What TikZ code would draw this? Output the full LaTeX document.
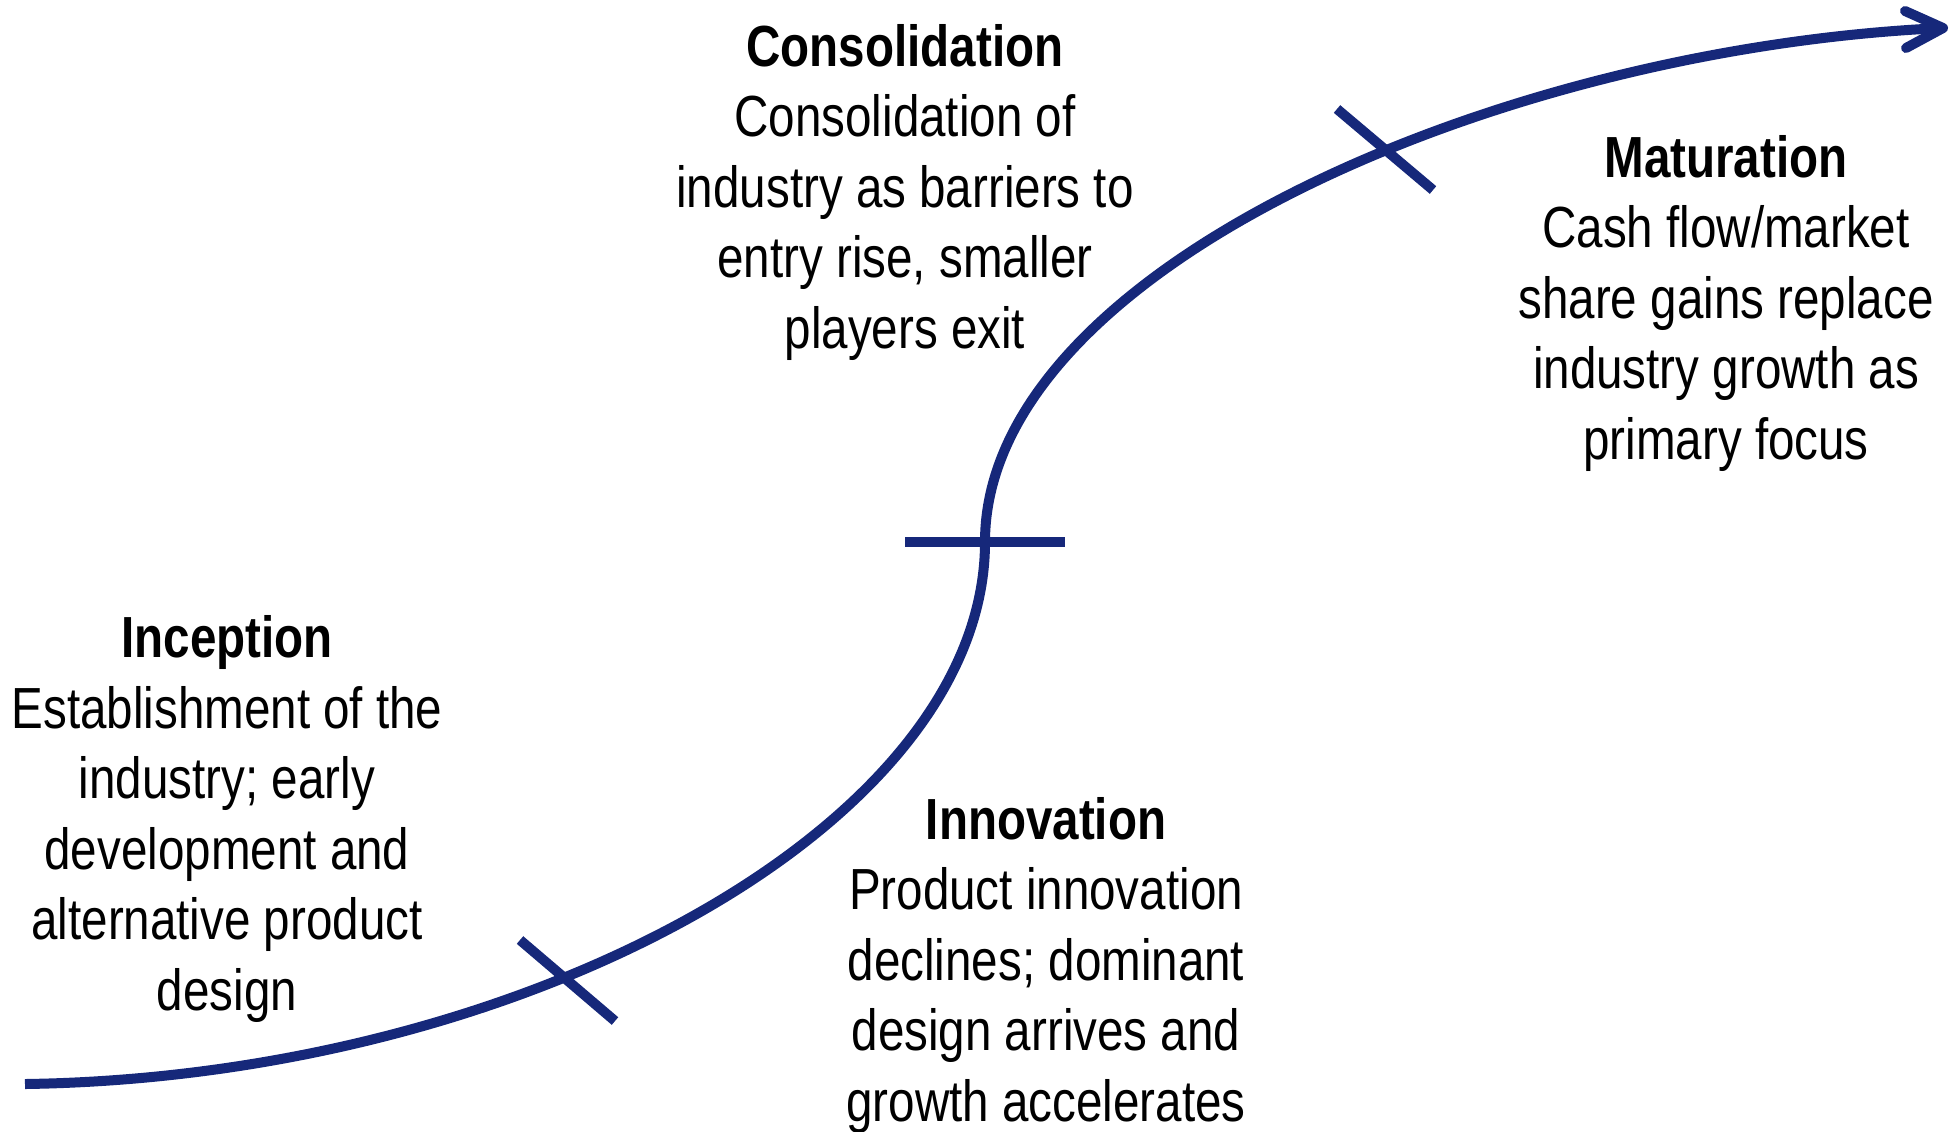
\documentclass[tikz,border=0pt]{standalone}
\usepackage{fontspec}
\setmainfont{Liberation Sans}[FakeStretch=0.82]
\definecolor{navy}{RGB}{22,40,122}
\begin{document}
\begin{tikzpicture}[x=0.5pt,y=-0.5pt,
  stage/.style={align=center, inner sep=0pt, anchor=base,
                font=\fontsize{29}{35.25}\selectfont},
  curve/.style={draw=navy, line width=5pt},
  tickmark/.style={draw=navy, line width=5pt}]
\useasboundingbox (0,0) rectangle (1957,1131);

% S-shaped life-cycle curve
\coordinate (start) at (25,1084);
\coordinate (c1) at (524,1077);
\coordinate (c2) at (985,825);
\coordinate (mid) at (985,542);
\coordinate (c3) at (985,270);
\coordinate (c4) at (1498,48);
\coordinate (tip) at (1943,28);
\draw[curve] (start) .. controls (c1) and (c2) .. (mid)
                     .. controls (c3) and (c4) .. (tip);
% open arrow head
\coordinate (barbU) at (1905,11);
\coordinate (barbL) at (1906,48);
\draw[curve, line cap=round, line join=round] (barbU) -- (tip) -- (barbL);

% phase boundaries
\coordinate (t1a) at (520,940);  \coordinate (t1b) at (615,1021);
\coordinate (t2a) at (905,542);  \coordinate (t2b) at (1065,542);
\coordinate (t3a) at (1337,109); \coordinate (t3b) at (1433,190);
\draw[tickmark] (t1a) -- (t1b);
\draw[tickmark] (t2a) -- (t2b);
\draw[tickmark] (t3a) -- (t3b);

% phase descriptions (anchored at the baseline of their last line)
\node[stage] (inception) at (227,1010)
  {\textbf{Inception}\\Establishment of the\\industry; early\\development and\\alternative product\\design};
\node[stage] (innovation) at (1046,1121)
  {\textbf{Innovation}\\Product innovation\\declines; dominant\\design arrives and\\growth accelerates};
\node[stage] (consolidation) at (905,348)
  {\textbf{Consolidation}\\Consolidation of\\industry as barriers to\\entry rise, smaller\\players exit};
\node[stage] (maturation) at (1726,459)
  {\textbf{Maturation}\\Cash flow/market\\share gains replace\\industry growth as\\primary focus};
\end{tikzpicture}
\end{document}
